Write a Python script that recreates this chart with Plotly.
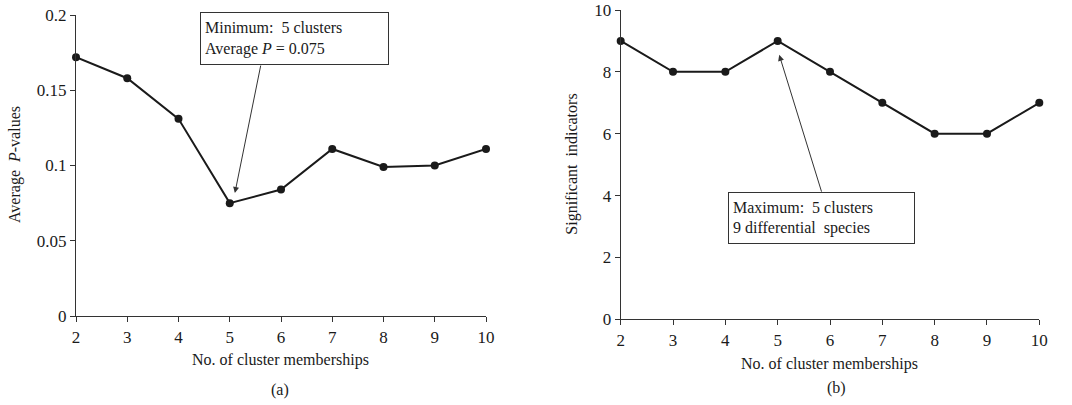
import plotly.graph_objects as go

clusters = [2, 3, 4, 5, 6, 7, 8, 9, 10]
avg_p_values = [0.172, 0.158, 0.131, 0.075, 0.084, 0.111, 0.099, 0.100, 0.111]
sig_indicators = [9, 8, 8, 9, 8, 7, 6, 6, 7]

FONT = "Liberation Serif, Times New Roman, serif"
INK = "#1a1a1a"

fig = go.Figure()
fig.add_trace(go.Scatter(x=clusters, y=avg_p_values, mode="lines+markers",
                         line=dict(color=INK, width=2), marker=dict(color=INK, size=8),
                         cliponaxis=False, xaxis="x", yaxis="y", showlegend=False))
fig.add_trace(go.Scatter(x=clusters, y=sig_indicators, mode="lines+markers",
                         line=dict(color=INK, width=2), marker=dict(color=INK, size=8),
                         cliponaxis=False, xaxis="x2", yaxis="y2", showlegend=False))

axis_common = dict(showgrid=False, zeroline=False, showline=True, linecolor="#333",
                   linewidth=1.3, ticks="outside", ticklen=5, tickcolor="#333",
                   tickfont=dict(family=FONT, size=17, color=INK), automargin=False)

fig.update_layout(
    width=1072, height=405,
    margin=dict(l=0, r=0, t=0, b=0),
    paper_bgcolor="white", plot_bgcolor="white",
    font=dict(family=FONT, color=INK),
    xaxis=dict(domain=[76/1072, 486/1072], range=[2, 10], tickvals=clusters,
               anchor="y", **axis_common),
    yaxis=dict(domain=[1-316/405, 1-15/405], range=[0, 0.2],
               tickvals=[0, 0.05, 0.1, 0.15, 0.2], ticktext=["0", "0.05", "0.1", "0.15", "0.2"],
               anchor="x", **axis_common),
    xaxis2=dict(domain=[620.7/1072, 1039.3/1072], range=[2, 10], tickvals=clusters,
                anchor="y2", **axis_common),
    yaxis2=dict(domain=[1-319.3/405, 1-10/405], range=[0, 10],
                tickvals=[0, 2, 4, 6, 8, 10], anchor="x2", **axis_common),
)

ann = []
# arrows
ann.append(dict(x=5.10, y=0.0817, xref="x", yref="y", ax=5.61, ay=0.1674,
                axref="x", ayref="y", text="", showarrow=True, arrowhead=2,
                arrowsize=1.2, arrowwidth=1, arrowcolor="#333"))
ann.append(dict(x=5.03, y=8.55, xref="x2", yref="y2", ax=5.847, ay=4.08,
                axref="x2", ayref="y2", text="", showarrow=True, arrowhead=2,
                arrowsize=1.2, arrowwidth=1, arrowcolor="#333"))
# text boxes
ann.append(dict(x=294/1072, y=1-38.5/405, xref="paper", yref="paper",
                text="Minimum:  5 clusters<br>Average <i>P</i> = 0.075",
                showarrow=False, align="left", width=179, height=43, borderpad=4,
                bordercolor="#333", borderwidth=1, bgcolor="white",
                font=dict(family=FONT, size=16, color=INK),
                xanchor="center", yanchor="middle"))
ann.append(dict(x=821/1072, y=1-218/405, xref="paper", yref="paper",
                text="Maximum:  5 clusters<br>9 differential  species",
                showarrow=False, align="left", width=177, height=42, borderpad=4,
                bordercolor="#333", borderwidth=1, bgcolor="white",
                font=dict(family=FONT, size=16, color=INK),
                xanchor="center", yanchor="middle"))
# axis titles
title_font = dict(family=FONT, size=16, color=INK)
ann.append(dict(x=15/1072, y=1-165/405, xref="paper", yref="paper",
                text="Average  <i>P</i>-values", textangle=-90, showarrow=False,
                font=title_font, xanchor="center", yanchor="middle"))
ann.append(dict(x=571.7/1072, y=1-164/405, xref="paper", yref="paper",
                text="Significant  indicators", textangle=-90, showarrow=False,
                font=title_font, xanchor="center", yanchor="middle"))
ann.append(dict(x=280/1072, y=1-360/405, xref="paper", yref="paper",
                text="No. of cluster memberships", showarrow=False,
                font=title_font, xanchor="center", yanchor="middle"))
ann.append(dict(x=829.5/1072, y=1-364/405, xref="paper", yref="paper",
                text="No. of cluster memberships", showarrow=False,
                font=title_font, xanchor="center", yanchor="middle"))
ann.append(dict(x=280/1072, y=1-390/405, xref="paper", yref="paper",
                text="(a)", showarrow=False, font=title_font,
                xanchor="center", yanchor="middle"))
ann.append(dict(x=836/1072, y=1-388/405, xref="paper", yref="paper",
                text="(b)", showarrow=False, font=title_font,
                xanchor="center", yanchor="middle"))

fig.update_layout(annotations=ann)
fig.write_html("out.html", config={"displayModeBar": False},
               post_script="document.body.style.margin='0';document.body.style.padding='0';")
